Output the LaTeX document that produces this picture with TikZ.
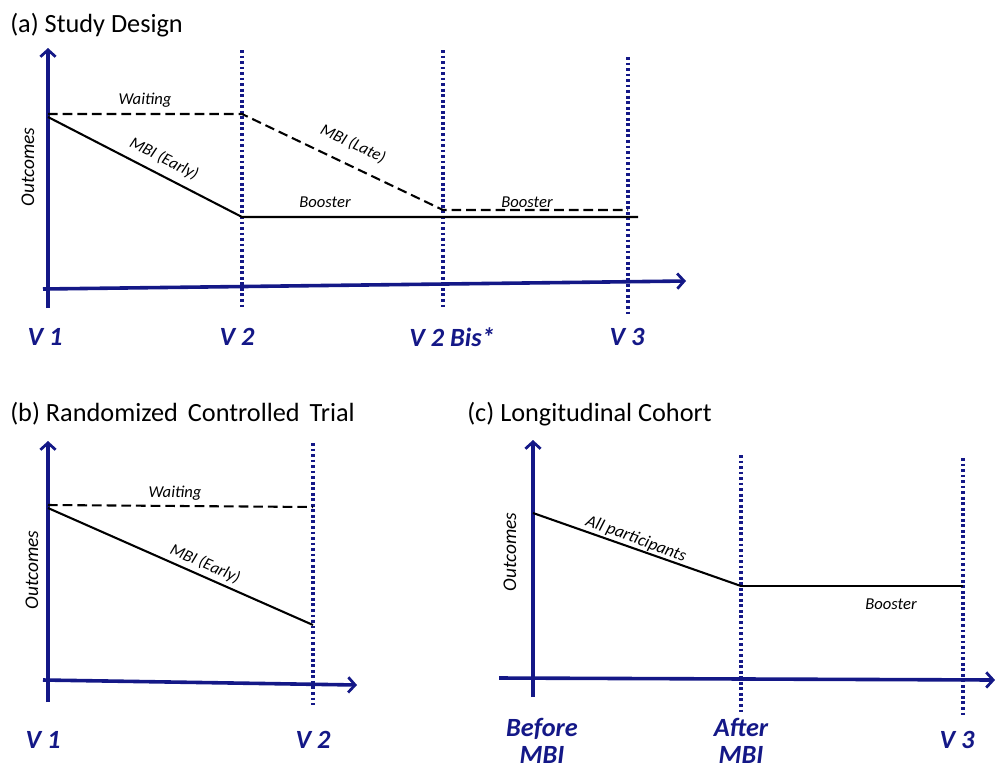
\documentclass[tikz,border=0pt]{standalone}
\usepackage{fontspec}
\setmainfont{Carlito}
\usetikzlibrary{arrows.meta}
\definecolor{axisblue}{RGB}{20,24,135}
\begin{document}
\begin{tikzpicture}[x=0.0254cm,y=-0.0254cm,
    axis/.style={axisblue, line width=2.6pt, -{Straight Barb[length=5pt,width=11pt,line width=2pt]}},
    visit/.style={axisblue, line width=2.4pt, dash pattern=on 2pt off 2pt},
    trend/.style={black, line width=1.5pt},
    waitline/.style={black, line width=1.5pt, dash pattern=on 7pt off 3.6pt},
    lbl/.style={font=\fontsize{12}{14}\selectfont\itshape, inner sep=1pt},
    ylbl/.style={font=\fontsize{14}{16}\selectfont\itshape, inner sep=1pt, rotate=90},
    vlbl/.style={font=\fontsize{19}{20}\selectfont\bfseries\itshape, text=axisblue, align=center, inner sep=0pt},
    ttl/.style={font=\fontsize{19}{21}\selectfont, anchor=west, inner sep=0pt}]
    \useasboundingbox (0,0) rectangle (995,771);

    \node[ttl] (ta) at (10,25) {(a) Study Design};
    \coordinate (ya0) at (48,308); \coordinate (ya1) at (48,48);
    \coordinate (xa0) at (43,289); \coordinate (xa1) at (686,281);
    \foreach \x/\t/\b in {242/50/310,443/50/310,628/57/317}
        \draw[visit] (\x,\t) -- (\x,\b);
    \draw[axis] (ya0) -- (ya1);
    \draw[axis] (xa0) -- (xa1);
    \coordinate (wa0) at (48,114); \coordinate (wa1) at (242,114);
    \coordinate (la1) at (443,210); \coordinate (la2) at (628,210);
    \coordinate (ea0) at (48,117); \coordinate (ea1) at (242,217);
    \coordinate (ba1) at (638,217);
    \draw[waitline] (wa0) -- (wa1) -- (la1) -- (la2);
    \draw[trend] (ea0) -- (ea1) -- (ba1);
    \node[lbl] (waita) at (145,100) {Waiting};
    \node[lbl, rotate=-26.6] (earlya) at (164,159) {MBI (Early)};
    \node[lbl, rotate=-25.4] (latea) at (353,144) {MBI (Late)};
    \node[lbl] (boosta) at (325,202) {Booster};
    \node[lbl] (boostb) at (527,202) {Booster};
    \node[ylbl] (outa) at (28,167) {Outcomes};
    \node[vlbl] (va1) at (45,337) {V 1};
    \node[vlbl] (va2) at (237,337) {V 2};
    \node[vlbl] (va2b) at (452,337) {V 2 Bis*};
    \node[vlbl] (va3) at (627,337) {V 3};

    \node[ttl] (tb) at (10,414) {(b) Randomized\hspace{0.38em}Controlled\hspace{0.38em}Trial};
    \coordinate (yb0) at (48,702); \coordinate (yb1) at (48,441);
    \coordinate (xb0) at (43,680); \coordinate (xb1) at (357,685);
    \draw[visit] (313,443) -- (313,705);
    \draw[axis] (yb0) -- (yb1);
    \draw[axis] (xb0) -- (xb1);
    \coordinate (wb0) at (48,505); \coordinate (wb1) at (313,507);
    \coordinate (eb0) at (48,508); \coordinate (eb1) at (313,625);
    \draw[waitline] (wb0) -- (wb1);
    \draw[trend] (eb0) -- (eb1);
    \node[lbl] (waitb) at (175,493) {Waiting};
    \node[lbl, rotate=-23.7] (earlyb) at (205,564) {MBI (Early)};
    \node[ylbl] (outb) at (32,570) {Outcomes};
    \node[vlbl] (vb1) at (43,740) {V 1};
    \node[vlbl] (vb2) at (313,740) {V 2};

    \node[ttl] (tc) at (467,414) {(c) Longitudinal Cohort};
    \coordinate (yc0) at (533,697); \coordinate (yc1) at (533,440);
    \coordinate (xc0) at (499,678); \coordinate (xc1) at (995,680);
    \draw[visit] (741,455) -- (741,715);
    \draw[visit] (963,458) -- (963,718);
    \draw[axis] (yc0) -- (yc1);
    \draw[axis] (xc0) -- (xc1);
    \coordinate (pc0) at (533,513); \coordinate (pc1) at (741,586);
    \coordinate (pc2) at (963,586);
    \draw[trend] (pc0) -- (pc1);
    \draw[black, line width=0.8pt] (pc1) -- (pc2);
    \node[lbl, font=\fontsize{12.5}{14}\selectfont\itshape, rotate=-20] (allc) at (636,539) {All participants};
    \node[lbl] (boostc) at (891,604) {Booster};
    \node[ylbl] (outc) at (510,552) {Outcomes};
    \node[vlbl] (vc1) at (542,741) {Before\\MBI};
    \node[vlbl] (vc2) at (741,741) {After\\MBI};
    \node[vlbl] (vc3) at (957,740) {V 3};
\end{tikzpicture}
\end{document}
